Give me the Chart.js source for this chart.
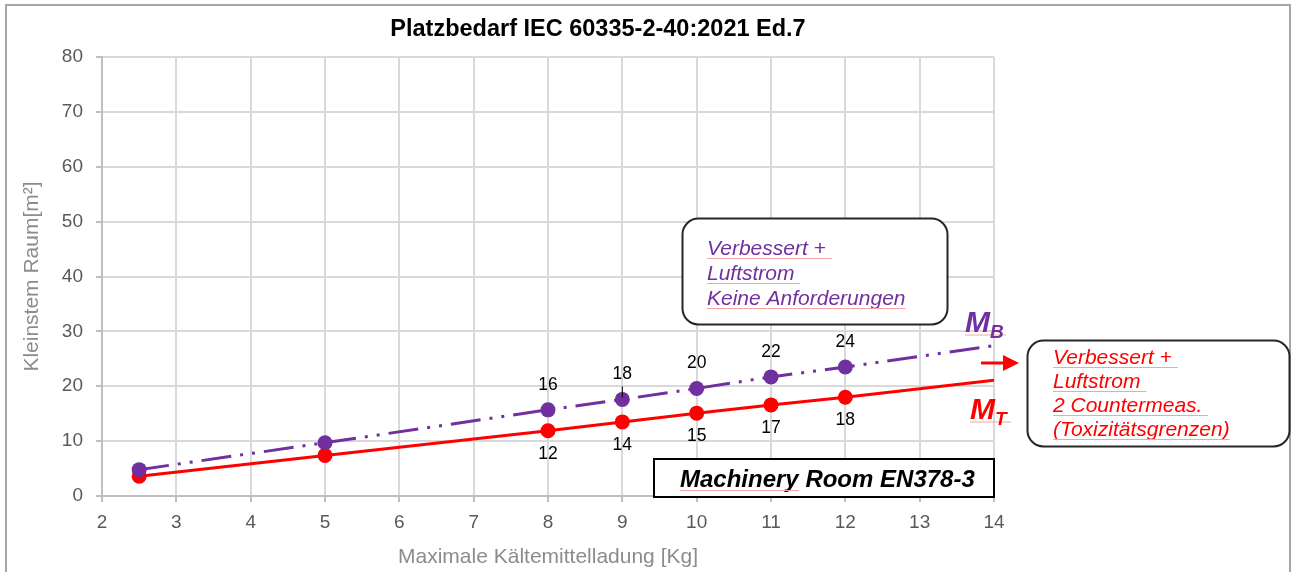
<!DOCTYPE html>
<html><head><meta charset="utf-8">
<script src="https://cdn.jsdelivr.net/npm/chart.js@4.4.1/dist/chart.umd.min.js"></script>
<style>html,body{margin:0;padding:0;background:#fff}#wrap{width:1292px;height:572px;position:relative}</style>
</head><body><div id="wrap"><canvas id="c" width="1292" height="572"></canvas></div>
<script>
// ---- data ----
const charges = [2.5, 5, 8, 9, 10, 11, 12, 14];          // Maximale Kältemittelladung [Kg]
const mB      = [4.8, 9.7, 15.7, 17.6, 19.6, 21.7, 23.5, 27.4]; // M_B (Verbessert + Luftstrom, keine Anforderungen)
const mT      = [3.6, 7.4, 11.9, 13.5, 15.1, 16.6, 18.0, 21.1]; // M_T (Toxizitätsgrenzen)
const mBLabels = ['', '', '16', '18', '20', '22', '24', ''];
const mTLabels = ['', '', '12', '14', '15', '17', '18', ''];
const xRange = [2, 14];
const yRange = [0, 80];
const titleText = 'Platzbedarf IEC 60335-2-40:2021 Ed.7';
const xTitle = 'Maximale Kältemittelladung [Kg]';
const yTitle = 'Kleinstem Raum[m²]';
const boxPurple = ['Verbessert + ', 'Luftstrom ', 'Keine Anforderungen'];
const boxRed = ['Verbessert + ', 'Luftstrom ', '2 Countermeas. ', '(Toxizitätsgrenzen)'];
const boxBlack = 'Machinery Room EN378-3';

const FF = "'Liberation Sans', Arial, sans-serif";
const PURPLE = '#7030a0', RED = '#ff0000', SPELL = '#f5a3a3';

function pts(ys){ return charges.map((x,i)=>({x:x, y:ys[i]})); }

function roundRect(ctx,x,y,w,h,r){
  ctx.beginPath();
  ctx.moveTo(x+r,y); ctx.lineTo(x+w-r,y); ctx.arcTo(x+w,y,x+w,y+r,r);
  ctx.lineTo(x+w,y+h-r); ctx.arcTo(x+w,y+h,x+w-r,y+h,r);
  ctx.lineTo(x+r,y+h); ctx.arcTo(x,y+h,x,y+h-r,r);
  ctx.lineTo(x,y+r); ctx.arcTo(x,y,x+r,y,r); ctx.closePath();
}
function textU(ctx,t,x,y,font,color,underline){
  ctx.font = font; ctx.fillStyle = color; ctx.textAlign='left'; ctx.textBaseline='alphabetic';
  ctx.fillText(t.trimEnd(), x, y);
  if(underline){
    const w = ctx.measureText(t).width;
    ctx.strokeStyle = SPELL; ctx.lineWidth = 1; ctx.setLineDash([]);
    ctx.beginPath(); ctx.moveTo(x, y+3.5); ctx.lineTo(x+w, y+3.5); ctx.stroke();
  }
}

const decor = {
  id: 'decor',
  beforeDraw(chart){
    const ctx = chart.ctx;
    ctx.save();
    ctx.fillStyle = '#fff'; ctx.fillRect(0,0,chart.width,chart.height);
    ctx.strokeStyle = '#a6a6a6'; ctx.lineWidth = 2;
    ctx.beginPath(); ctx.moveTo(6, chart.height); ctx.lineTo(6, 5); ctx.lineTo(1290, 5); ctx.lineTo(1290, chart.height); ctx.stroke();
    ctx.restore();
  },
  afterDatasetsDraw(chart){
    const ctx = chart.ctx;
    ctx.save();
    ctx.font = '17.5px ' + FF; ctx.fillStyle = '#000'; ctx.textAlign = 'center'; ctx.textBaseline = 'middle';
    const mb = chart.getDatasetMeta(0).data, mt = chart.getDatasetMeta(1).data;
    mBLabels.forEach((l,i)=>{ if(l){ ctx.fillText(l, mb[i].x, mb[i].y - 25); } });
    mTLabels.forEach((l,i)=>{ if(l){ ctx.fillText(l, mt[i].x, mt[i].y + 23); } });
    // leader line for the "18" label
    const i18 = 3;
    ctx.strokeStyle = '#000'; ctx.lineWidth = 1;
    ctx.beginPath(); ctx.moveTo(mb[i18].x, mb[i18].y - 13); ctx.lineTo(mb[i18].x, mb[i18].y - 2); ctx.stroke();
    ctx.restore();
  },
  afterDraw(chart){
    const ctx = chart.ctx;
    ctx.save();
    // title
    ctx.font = 'bold 23.5px ' + FF; ctx.fillStyle = '#000'; ctx.textAlign = 'center'; ctx.textBaseline = 'alphabetic';
    ctx.fillText(titleText, 598, 36);

    // purple box
    roundRect(ctx, 682.5, 218.5, 265, 106, 16);
    ctx.fillStyle = '#fff'; ctx.fill(); ctx.strokeStyle = '#262626'; ctx.lineWidth = 2; ctx.stroke();
    boxPurple.forEach((t,i)=> textU(ctx, t, 707, 255 + i*25, 'italic 21px ' + FF, PURPLE, true));

    // red box
    roundRect(ctx, 1027.5, 340.5, 262, 106, 16);
    ctx.fillStyle = '#fff'; ctx.fill(); ctx.strokeStyle = '#262626'; ctx.lineWidth = 2; ctx.stroke();
    boxRed.forEach((t,i)=> textU(ctx, t, 1053, 364 + i*24, 'italic 21px ' + FF, RED, true));

    // black box
    ctx.fillStyle = '#fff'; ctx.fillRect(654, 459, 340, 38);
    ctx.strokeStyle = '#000'; ctx.lineWidth = 2; ctx.strokeRect(654, 459, 340, 38);
    ctx.font = 'bold italic 24px ' + FF; ctx.fillStyle = '#000'; ctx.textAlign = 'left';
    ctx.fillText(boxBlack, 680, 487);
    const wM = ctx.measureText('Machinery').width;
    ctx.strokeStyle = SPELL; ctx.lineWidth = 1; ctx.beginPath(); ctx.moveTo(680, 490.5); ctx.lineTo(680 + wM, 490.5); ctx.stroke();

    // M_B / M_T labels
    function mLabel(sub, x, y, color){
      ctx.font = 'bold italic 30px ' + FF; ctx.fillStyle = color; ctx.textAlign = 'left';
      ctx.fillText('M', x, y);
      const w = ctx.measureText('M').width;
      ctx.strokeStyle = SPELL; ctx.lineWidth = 1; ctx.beginPath(); ctx.moveTo(x, y+3); ctx.lineTo(x+w+16, y+3); ctx.stroke();
      ctx.font = 'bold italic 19px ' + FF; ctx.fillStyle = color;
      ctx.fillText(sub, x + w, y + 6);
    }
    mLabel('B', 965, 332, PURPLE);
    mLabel('T', 970, 419, RED);

    // arrow
    ctx.strokeStyle = RED; ctx.lineWidth = 3; ctx.setLineDash([]);
    ctx.beginPath(); ctx.moveTo(981, 363); ctx.lineTo(1004, 363); ctx.stroke();
    ctx.fillStyle = RED; ctx.beginPath(); ctx.moveTo(1003, 355); ctx.lineTo(1019, 363); ctx.lineTo(1003, 371); ctx.closePath(); ctx.fill();
    ctx.restore();
  }
};

new Chart(document.getElementById('c'), {
  type: 'line',
  data: {
    datasets: [
      { label: 'M_B', data: pts(mB), borderColor: PURPLE, backgroundColor: PURPLE, borderWidth: 3,
        borderDash: [30, 9, 3, 9, 3, 9], pointBorderWidth: 0,
        pointRadius: c => c.dataIndex === charges.length - 1 ? 0 : 7.5 },
      { label: 'M_T', data: pts(mT), borderColor: RED, backgroundColor: RED, borderWidth: 3,
        pointBorderWidth: 0,
        pointRadius: c => c.dataIndex === charges.length - 1 ? 0 : 7.5 }
    ]
  },
  options: {
    responsive: false, animation: false, devicePixelRatio: 1,
    layout: { padding: { left: 0, right: 298, top: 57, bottom: 0 } },
    plugins: { legend: { display: false }, title: { display: false }, tooltip: { enabled: false } },
    scales: {
      x: {
        type: 'linear', min: xRange[0], max: xRange[1],
        ticks: { stepSize: 1, color: '#595959', font: { family: FF, size: 19 }, padding: 9 },
        grid: { color: '#d9d9d9', lineWidth: 2, tickLength: 6, tickColor: '#bfbfbf' },
        border: { color: '#bfbfbf', width: 2 },
        title: { display: true, text: xTitle, color: '#8c8c8c', font: { family: FF, size: 21 }, padding: { top: 0, bottom: 2 } },
        afterFit: s => { s.height = 76; }
      },
      y: {
        min: yRange[0], max: yRange[1],
        ticks: { stepSize: 10, color: '#595959', font: { family: FF, size: 19 }, padding: 13 },
        grid: { color: '#d9d9d9', lineWidth: 2, tickLength: 6, tickColor: '#bfbfbf' },
        border: { color: '#bfbfbf', width: 2 },
        title: { display: true, text: yTitle, color: '#8c8c8c', font: { family: FF, size: 21 }, padding: { top: 20, bottom: 0 } },
        afterFit: s => { s.width = 102; }
      }
    }
  },
  plugins: [decor]
});
</script></body></html>
